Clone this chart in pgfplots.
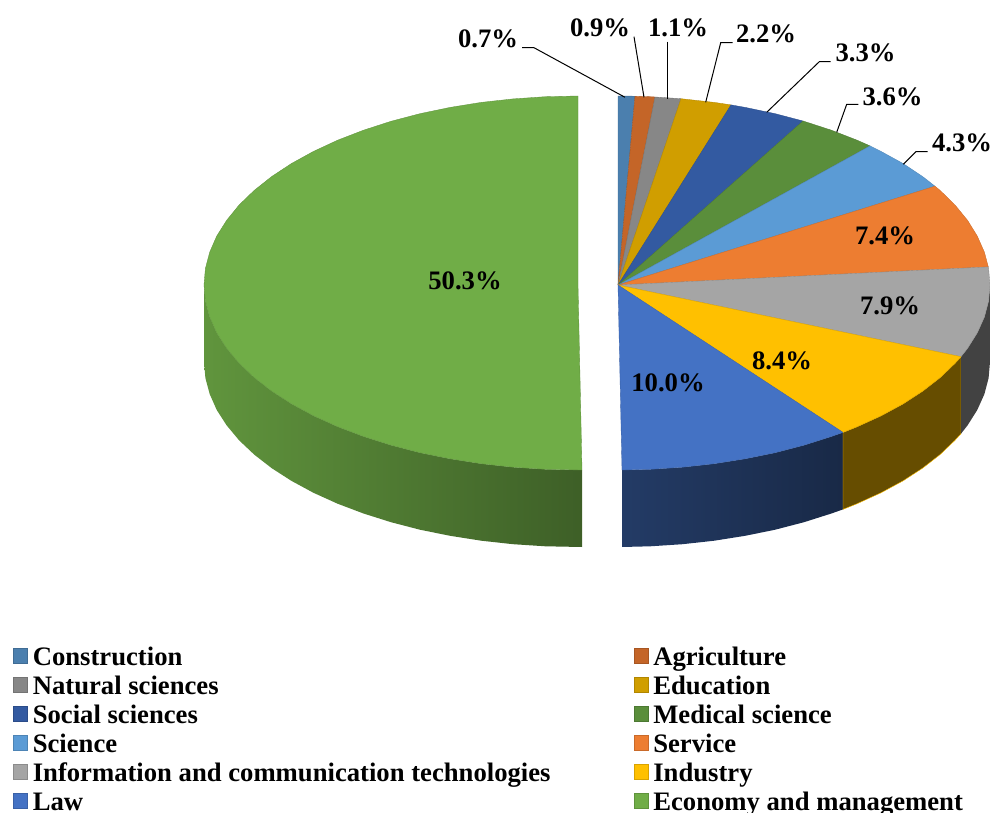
\documentclass[border=0pt]{standalone}
\usepackage{fontspec}
\setmainfont{Liberation Serif}
\usepackage{pgfplots}
\pgfplotsset{compat=1.18}

\definecolor{cCons}{HTML}{4B7FAE}
\definecolor{cAgri}{HTML}{C46528}
\definecolor{cNat}{HTML}{878787}
\definecolor{cEdu}{HTML}{D09E00}
\definecolor{cSoc}{HTML}{335AA1}
\definecolor{cMed}{HTML}{5A8E3B}
\definecolor{cSci}{HTML}{5B9BD5}
\definecolor{cServ}{HTML}{ED7D31}
\definecolor{cIct}{HTML}{A5A5A5}
\definecolor{cInd}{HTML}{FFC000}
\definecolor{cLaw}{HTML}{4472C4}
\definecolor{cEco}{HTML}{70AD47}

\newcommand{\lab}{\fontsize{20pt}{22pt}\selectfont\bfseries}

\begin{document}
\begin{tikzpicture}
\begin{axis}[
    name=ax,
    scale only axis,
    width=742.5pt, height=609.75pt,
    xmin=0, xmax=990, ymin=0, ymax=813,
    y dir=reverse,
    hide axis,
    legend columns=2,
    legend cell align=left,
    legend image code/.code={\draw[#1,line width=0.6pt] (0pt,-5pt) rectangle (10.8pt,5.8pt);},
    legend style={
        at={(axis cs:13,816)}, anchor=south west,
        draw=none, fill=none, inner sep=0pt, outer sep=0pt,
        font=\lab,
        row sep=0pt,
        nodes={inner sep=0pt, text height=17.75pt, text depth=4pt},
        /tikz/every odd column/.append style={column sep=3.45pt},
        /tikz/every even column/.append style={column sep=62.2pt},
    },
]
% side walls
\addplot[forget plot, draw=none, left color=cEco!86!black, right color=cEco!55!black] coordinates {
    (204,285)(205.4,301.1)(209.7,317.1)(216.7,332.9)(226.6,348.3)(239,363.2)(254.1,377.5)(271.6,391.1)
    (291.5,403.9)(313.5,415.8)(337.6,426.7)(363.5,436.5)(391,445.2)(419.9,452.7)(450.1,458.8)(481.2,463.7)
    (513.1,467.2)(545.4,469.3)(582,470)(582,547)(545.4,546.3)(513.1,544.2)(481.2,540.7)(450.1,535.8)
    (419.9,529.7)(391,522.2)(363.5,513.5)(337.6,503.7)(313.5,492.8)(291.5,480.9)(271.6,468.1)(254.1,454.5)
    (239,440.2)(226.6,425.3)(216.7,409.9)(209.7,394.1)(205.4,378.1)(204,362)(204,285)};
\addplot[forget plot, draw=none, left color=cLaw!52!black, right color=cLaw!36!black] coordinates {
    (622,470)(650.4,469.3)(682.6,467.2)(714.3,463.7)(745.2,458.8)(775.2,452.7)(804,445.2)(831.4,436.5)(843,432.4)
    (843,509.4)(831.4,513.5)(804,522.2)(775.2,529.7)(745.2,535.8)(714.3,540.7)(682.6,544.2)(650.4,546.3)(622,547)(622,470)};
\addplot[forget plot, draw=cInd, line width=0.3pt, fill=cInd!40!black] coordinates {
    (843,432.4)(857.1,426.7)(881,415.8)(903,403.9)(922.7,391.1)(940.2,377.5)(955.1,363.2)(961,356.7)
    (961,433.7)(955.1,440.2)(940.2,454.5)(922.7,468.1)(903,480.9)(881,492.8)(857.1,503.7)(843,509.4)(843,432.4)};
\addplot[forget plot, draw=none, fill=cIct!40!black] coordinates {
    (961,356.7)(967.6,348.3)(977.3,332.9)(984.4,317.1)(988.6,301.1)(990,285)
    (990,362)(988.6,378.1)(984.4,394.1)(977.3,409.9)(967.6,425.3)(961,433.7)(961,356.7)};

% top faces
\addplot[draw=cCons!85!black, line width=0.25pt, fill=cCons] coordinates {(618,285)(618,96)(635,96.2)(618,285)};
\addlegendentry{Construction}
\addplot[draw=cAgri!85!black, line width=0.25pt, fill=cAgri] coordinates {(618,285)(635,96.2)(650.4,96.7)(655,97)(618,285)};
\addlegendentry{Agriculture}
\addplot[draw=cNat!85!black, line width=0.25pt, fill=cNat] coordinates {(618,285)(655,97)(681,98.7)(618,285)};
\addlegendentry{Natural sciences}
\addplot[draw=cEdu!85!black, line width=0.25pt, fill=cEdu] coordinates {(618,285)(681,98.7)(682.6,98.9)(714.3,102.4)(731,104.9)(618,285)};
\addlegendentry{Education}
\addplot[draw=cSoc!85!black, line width=0.25pt, fill=cSoc] coordinates {(618,285)(731,104.9)(745.2,107.4)(775.2,113.7)(803,121)(618,285)};
\addlegendentry{Social sciences}
\addplot[draw=cMed!85!black, line width=0.25pt, fill=cMed] coordinates {(618,285)(803,121)(804,121.3)(831.4,130.2)(857.1,140.2)(870,145.9)(618,285)};
\addlegendentry{Medical science}
\addplot[draw=cSci!85!black, line width=0.25pt, fill=cSci] coordinates {(618,285)(870,145.9)(881,151.4)(903,163.5)(922.7,176.6)(935,186.2)(618,285)};
\addlegendentry{Science}
\addplot[draw=cServ!85!black, line width=0.25pt, fill=cServ] coordinates {(618,285)(935,186.2)(940.2,190.5)(955.1,205.1)(967.6,220.4)(977.3,236.1)(984.4,252.2)(988.3,266.9)(618,285)};
\addlegendentry{Service}
\addplot[draw=cIct!85!black, line width=0.25pt, fill=cIct] coordinates {(618,285)(988.3,266.9)(988.6,268.5)(990,285)(988.6,301.1)(984.4,317.1)(977.3,332.9)(967.6,348.3)(961,356.7)(618,285)};
\addlegendentry{Information and communication technologies}
\addplot[draw=cInd!85!black, line width=0.25pt, fill=cInd] coordinates {(618,285)(961,356.7)(955.1,363.2)(940.2,377.5)(922.7,391.1)(903,403.9)(881,415.8)(857.1,426.7)(843,432.4)(618,285)};
\addlegendentry{Industry}
\addplot[draw=cLaw!85!black, line width=0.25pt, fill=cLaw] coordinates {(618,285)(843,432.4)(831.4,436.5)(804,445.2)(775.2,452.7)(745.2,458.8)(714.3,463.7)(682.6,467.2)(650.4,469.3)(622,470)(618,285)};
\addlegendentry{Law}
\addplot[draw=cEco!85!black, line width=0.25pt, fill=cEco] coordinates {
    (578,285)(578,96)(545.4,96.7)(513.1,98.9)(481.2,102.4)(450.1,107.4)(419.9,113.7)(391,121.3)(363.5,130.2)
    (337.6,140.2)(313.5,151.4)(291.5,163.5)(271.6,176.6)(254.1,190.5)(239,205.1)(226.6,220.4)(216.7,236.1)
    (209.7,252.2)(205.4,268.5)(204,285)(205.4,301.1)(209.7,317.1)(216.7,332.9)(226.6,348.3)(239,363.2)
    (254.1,377.5)(271.6,391.1)(291.5,403.9)(313.5,415.8)(337.6,426.7)(363.5,436.5)(391,445.2)(419.9,452.7)
    (450.1,458.8)(481.2,463.7)(513.1,467.2)(545.4,469.3)(582,470)(578,285)};
\addlegendentry{Economy and management}

% leader lines
\addplot[forget plot, black, line width=0.75pt] coordinates {(522,47.7)(534,47.7)(625,97.3)};
\addplot[forget plot, black, line width=0.75pt] coordinates {(634,36.7)(644,97.3)};
\addplot[forget plot, black, line width=0.75pt] coordinates {(667.7,41.7)(667.7,98.7)};
\addplot[forget plot, black, line width=0.75pt] coordinates {(732.7,42.7)(720.7,42.7)(705.7,102.3)};
\addplot[forget plot, black, line width=0.75pt] coordinates {(830.7,61.7)(819.3,61.7)(766.7,112.3)};
\addplot[forget plot, black, line width=0.75pt] coordinates {(858.3,104.3)(846.7,104.3)(836.7,132.3)};
\addplot[forget plot, black, line width=0.75pt] coordinates {(927.7,151.7)(916,151.7)(903.3,164.3)};

% data labels
\foreach \x/\y/\t in {488/48/0.7, 600/37/0.9, 678/37/1.1, 766/43/2.2, 865.5/62/3.3, 892.5/106/3.6, 962/152/4.3,
                      885/245/7.4, 890/315/7.9, 782/369/8.4, 668/391/10.0, 465/290/50.3} {
    \edef\temp{\noexpand\node[anchor=base, inner sep=0pt, font=\noexpand\lab] at (axis cs:\x,\y) {\t\noexpand\%};}
    \temp
}
\end{axis}
\pgfresetboundingbox
\path[use as bounding box] (ax.south west) rectangle (ax.north east);
\end{tikzpicture}
\end{document}
